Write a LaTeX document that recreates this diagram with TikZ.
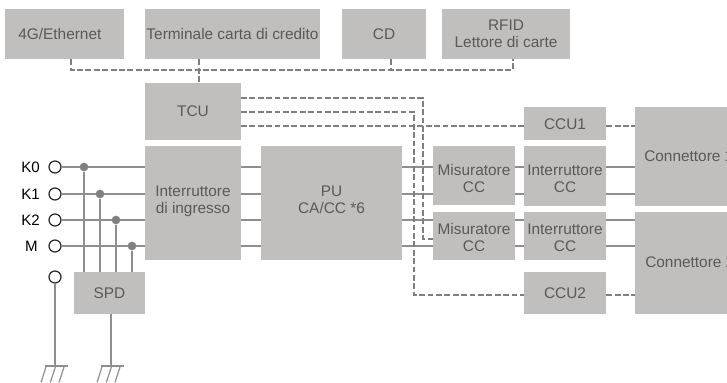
\documentclass[tikz,border=0pt]{standalone}
\usepackage{fontspec}
\setmainfont{Liberation Sans}
\definecolor{boxc}{HTML}{C0BFBD}
\definecolor{txtc}{HTML}{595959}
\definecolor{linec}{HTML}{8E8E8E}
\definecolor{dashc}{HTML}{7F7F7F}
\definecolor{dotc}{HTML}{808080}
\tikzset{
  boxs/.style={fill=boxc,draw=none,inner sep=0pt},
  lbl/.style={text=txtc,align=center,font=\fontsize{11.55}{12.9}\selectfont,inner sep=0pt},
  wire/.style={draw=linec,line width=0.9pt},
  dashln/.style={draw=dashc,line width=0.85pt,dash pattern=on 4.4pt off 1.9pt},
  term/.style={circle,draw=black!85,fill=white,line width=0.9pt,minimum size=9pt,inner sep=0pt},
  jdot/.style={circle,fill=dotc,minimum size=6.5pt,inner sep=0pt},
  tlbl/.style={text=black,font=\fontsize{11.3}{13}\selectfont,inner sep=0pt},
}
% name, x1, y1, x2, y2, text, text offset in px (downwards)
\newcommand\bx[7]{\node[boxs,minimum width={(#4-#2)*0.75pt},minimum height={(#5-#3)*0.75pt},
  label={[lbl,yshift={-(#7)*0.75pt}]center:#6}] (#1) at ({(#2+#4)/2},{(#3+#5)/2}) {};}
\begin{document}
\begin{tikzpicture}[x=0.75pt,y=-0.75pt]
\useasboundingbox (0,0) rectangle (727,382);
\bx{eth}{5}{9}{124}{59}{4G/Ethernet\hspace*{7pt}}{0}
\bx{pos}{145}{9}{320}{59}{Terminale carta di credito}{0}
\bx{cd}{342}{9}{426}{59}{CD}{0}
\bx{rfid}{442}{9}{570}{59}{RFID\\Lettore di carte}{0}
\bx{tcu}{145}{83}{241}{140}{TCU}{-0.5}
\bx{sw}{145}{146}{241}{260}{Interruttore\\di ingresso}{-1.5}
\bx{pu}{261}{146}{402}{260}{PU\\CA/CC *6}{-3}
\bx{ma}{433}{146}{515}{205}{Misuratore\\CC}{3}
\bx{mb}{433}{212}{515}{260}{Misuratore\\CC}{1.5}
\bx{ia}{524}{146}{606}{206}{Interruttore\\CC}{3}
\bx{ib}{524}{212}{606}{260}{Interruttore\\CC}{1.5}
\bx{ccua}{524}{107}{606}{140}{CCU1}{0.5}
\bx{ccub}{524}{272}{606}{314}{CCU2}{0}
\bx{spd}{74}{272}{145}{314}{SPD}{0}
\node[boxs,minimum width={92*0.75pt},minimum height={99*0.75pt}] (ca) at (681,156.5) {};
\node[boxs,minimum width={92*0.75pt},minimum height={102*0.75pt}] (cb) at (681,263) {};
\node[lbl,anchor=west] (cat) at (644,156.5) {Connettore 1};
\node[lbl,anchor=west] (cbt) at (645,262) {Connettore 2};
% terminals
\node[term] (k0) at (55,167) {};
\node[term] (k1) at (55,194) {};
\node[term] (k2) at (55,220) {};
\node[term] (km) at (55,246) {};
\node[term] (kg) at (55,277) {};
\node[tlbl,anchor=east] (lk0) at (40,167) {K0};
\node[tlbl,anchor=east] (lk1) at (40,194) {K1};
\node[tlbl,anchor=east] (lk2) at (40,220) {K2};
\node[tlbl,anchor=east] (lkm) at (38,246) {M};
% wires
\foreach \k in {k0,k1,k2,km} \draw[wire] (\k) -- (sw.west |- \k);
\foreach \k in {k0,k1,k2,km} \draw[wire] (sw.east |- \k) -- (pu.west |- \k);
\draw[wire] (pu.east |- k0) -- (ma.west |- k0);
\draw[wire] (pu.east |- k1) -- (ma.west |- k1);
\draw[wire] (pu.east |- k2) -- (mb.west |- k2);
\draw[wire] (pu.east |- km) -- (mb.west |- km);
\draw[wire] (ma.east |- k0) -- (ia.west |- k0);
\draw[wire] (ma.east |- k1) -- (ia.west |- k1);
\draw[wire] (mb.east |- k2) -- (ib.west |- k2);
\draw[wire] (mb.east |- km) -- (ib.west |- km);
\draw[wire] (ia.east |- k0) -- (ca.west |- k0);
\draw[wire] (ia.east |- k1) -- (ca.west |- k1);
\draw[wire] (ib.east |- k2) -- (cb.west |- k2);
\draw[wire] (ib.east |- km) -- (cb.west |- km);
% SPD taps
\node[jdot] (da) at (84,167) {};
\node[jdot] (db) at (100,194) {};
\node[jdot] (dc) at (116,220) {};
\node[jdot] (dd) at (132,246) {};
\foreach \d in {da,db,dc,dd} \draw[wire] (\d) -- (\d |- spd.north);
% grounds
\coordinate (ga) at (55,366);
\coordinate (gb) at (111,366);
\draw[wire] (kg) -- (ga);
\draw[wire] (gb |- spd.south) -- (gb);
\foreach \g in {ga,gb}{
  \draw[wire] ([xshift=-7.5pt]\g) -- ([xshift=9.5pt]\g);
  \foreach \o in {-6.5,0.5,7}
    \draw[wire,line cap=round] ([xshift=\o pt]\g) -- ([xshift=\o pt-3.9pt,yshift=-12pt]\g);
}
% data bus
\coordinate (bus) at (199,70);
\coordinate (xe) at (71,70);
\coordinate (xc) at (391,70);
\coordinate (xr) at (513,70);
\draw[dashln] (xe |- eth.south) -- (xe) -- (xr) -- (xr |- rfid.south);
\draw[dashln] (bus |- pos.south) -- (bus |- tcu.north);
\draw[dashln] (xc |- cd.south) -- (xc);
% TCU links
\coordinate (ta) at (241,98);
\coordinate (tb) at (241,112);
\coordinate (tc) at (241,126);
\coordinate (va) at (423,239);
\coordinate (vb) at (414,295);
\draw[dashln] (ta) -| (va) -- (mb.west |- va);
\draw[dashln] (tb) -| (vb) -- (ccub.west |- vb);
\draw[dashln] (tc) -- (ccua.west |- tc);
\draw[dashln] (ccua.east |- tc) -- (ca.west |- tc);
\draw[dashln] (ccub.east |- vb) -- (cb.west |- vb);
\end{tikzpicture}
\end{document}
